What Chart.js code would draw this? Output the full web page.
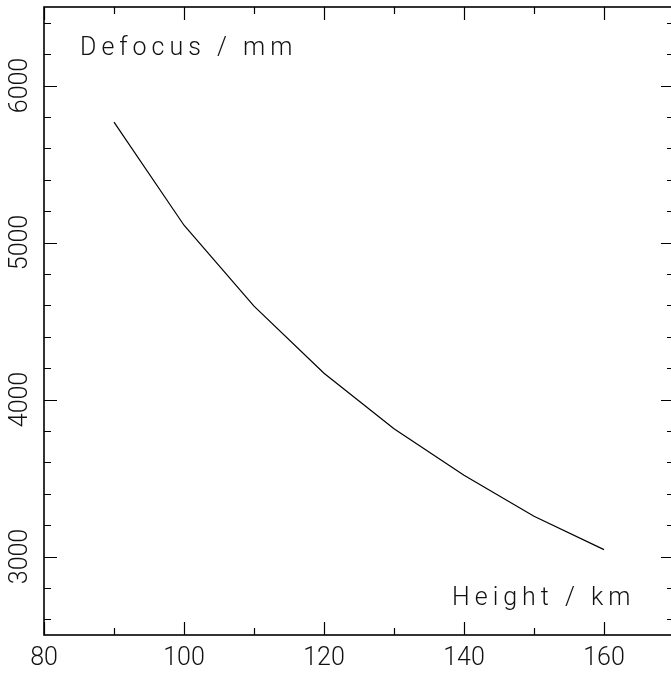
<!DOCTYPE html>
<html>
<head>
<meta charset="utf-8">
<script src="https://cdn.jsdelivr.net/npm/chart.js@4/dist/chart.umd.min.js"></script>
<style>
  html, body { margin: 0; padding: 0; overflow: hidden; background: #fff; }
  canvas { display: block; }
</style>
</head>
<body>
<canvas id="c" width="680" height="675"></canvas>
<script>
// defocus vs. height
const heights = [90, 100, 110, 120, 130, 140, 150, 160];
const defocus = [5767, 5110, 4595, 4167, 3814, 3517, 3256, 3044];

const xLabels = [80, 100, 120, 140, 160];
const yLabels = [3000, 4000, 5000, 6000];
const yTitle = 'Defocus / mm';
const xTitle = 'Height / km';

const FONT = 'Roboto, "Liberation Sans", Arial, sans-serif';

// box with inward ticks on all four sides, plus the in-plot labels
const frame = {
  id: 'frame',
  afterDraw(ch) {
    const { ctx, chartArea: a, scales: { x, y } } = ch;
    ctx.save();
    ctx.strokeStyle = '#000';
    ctx.lineWidth = 1.6;
    ctx.strokeRect(a.left, a.top, a.right - a.left, a.bottom - a.top);

    ctx.lineWidth = 1.2;
    ctx.beginPath();
    for (let v = x.min; v <= x.max; v += 10) {
      const px = Math.round(x.getPixelForValue(v)) + 0.5;
      const len = v % 20 === 0 ? 13 : 7;
      ctx.moveTo(px, a.bottom); ctx.lineTo(px, a.bottom - len);
      ctx.moveTo(px, a.top); ctx.lineTo(px, a.top + len);
    }
    for (let v = y.min + 100; v < y.max; v += 200) {
      const py = Math.round(y.getPixelForValue(v)) + 0.5;
      const len = v % 1000 === 0 ? 13 : 7;
      ctx.moveTo(a.left, py); ctx.lineTo(a.left + len, py);
      ctx.moveTo(a.right, py); ctx.lineTo(a.right - len, py);
    }
    ctx.stroke();

    ctx.fillStyle = '#111';
    ctx.font = '300 25px ' + FONT;
    ctx.letterSpacing = '5px';
    ctx.textBaseline = 'alphabetic';
    ctx.fillText(yTitle, 80, 55);
    ctx.fillText(xTitle, 452, 605);
    ctx.restore();
  }
};

new Chart(document.getElementById('c'), {
  type: 'line',
  data: {
    datasets: [{
      data: heights.map((h, i) => ({ x: h, y: defocus[i] })),
      borderColor: '#000',
      borderWidth: 1.2,
      pointRadius: 0,
      tension: 0,
      fill: false
    }]
  },
  options: {
    responsive: false,
    animation: false,
    layout: { padding: { top: 7, right: 6, left: 0, bottom: 0 } },
    plugins: { legend: { display: false }, tooltip: { enabled: false } },
    scales: {
      x: {
        type: 'linear',
        min: 80, max: 170,
        grid: { display: false },
        border: { display: false },
        ticks: {
          stepSize: 20,
          includeBounds: false,
          padding: 1,
          color: '#111',
          font: { family: FONT, size: 25, weight: 300 },
          maxRotation: 0,
          callback: v => xLabels.includes(v) ? String(v) : ''
        },
        afterFit(s) { s.height = 40; s.paddingLeft = 0; s.paddingRight = 0; }
      },
      y: {
        type: 'linear',
        min: 2500, max: 6500,
        grid: { display: false },
        border: { display: false },
        ticks: {
          stepSize: 500,
          autoSkip: false,
          minRotation: 90, maxRotation: 90,
          crossAlign: 'center',
          padding: -12,
          color: '#111',
          font: { family: FONT, size: 25, weight: 300 },
          callback: v => yLabels.includes(v) ? String(v) : ''
        },
        afterFit(s) { s.width = 44; s.paddingTop = 0; s.paddingBottom = 0; }
      }
    }
  },
  plugins: [frame]
});
</script>
</body>
</html>
